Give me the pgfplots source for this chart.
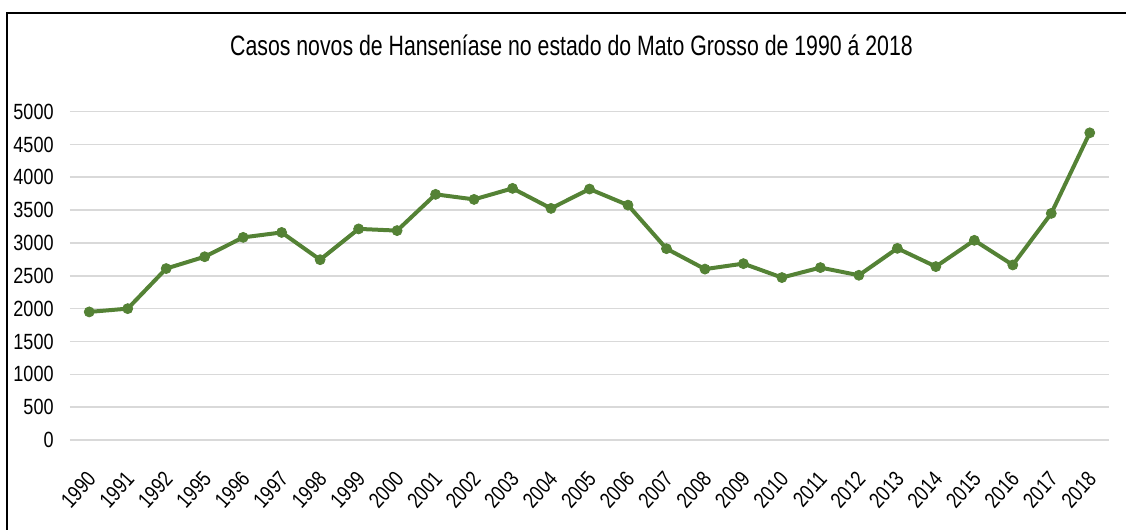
\documentclass[border=0pt]{standalone}
\usepackage{fontspec}
\setmainfont{Liberation Sans}[FakeStretch=0.82]
\newfontfamily\titlefont{Liberation Sans}[FakeStretch=0.76]
\newfontfamily\xfont{Liberation Sans}[FakeStretch=0.8]
\usepackage{pgfplots}
\pgfplotsset{compat=1.18}
\definecolor{lg}{RGB}{84,130,53}
\definecolor{gr}{RGB}{217,217,217}
\begin{document}
\begin{tikzpicture}
\path[use as bounding box] (0,0) rectangle (563pt,265pt);
\draw[line width=1.2pt] (3.5pt,-2pt) -- (3.5pt,258.5pt) -- (565pt,258.5pt);
\node[font=\titlefont\fontsize{14}{16}\selectfont, inner sep=0pt] at (285.75pt,242.5pt) {Casos novos de Hanseníase no estado do Mato Grosso de 1990 á 2018};
\begin{axis}[
  at={(35pt,45pt)}, anchor=south west,
  scale only axis, width=519.5pt, height=164.2pt,
  xmin=-0.5, xmax=26.5, ymin=0, ymax=5000,
  axis line style={draw=none},
  major tick length=0pt,
  ytick={0,500,...,5000},
  ymajorgrids, grid style={gr, line width=0.8pt},
  scaled y ticks=false,
  yticklabel style={font=\fontsize{11}{13}\selectfont, inner sep=0pt, xshift=-8pt,
    /pgf/number format/1000 sep={}, /pgf/number format/assume math mode=true},
  xtick={0,...,26},
  xticklabels={1990,1991,1992,1995,1996,1997,1998,1999,2000,2001,2002,2003,2004,2005,2006,2007,2008,2009,2010,2011,2012,2013,2014,2015,2016,2017,2018},
  xticklabel style={font=\xfont\fontsize{11}{13}\selectfont, rotate=48, anchor=north east, inner sep=0pt, xshift=-12.2pt, yshift=-8.5pt},
  clip=false,
]
\addplot[lg, line width=2pt, mark=*, mark size=2.5pt, mark options={fill=lg, draw=lg, line width=0.4pt}] coordinates {
(0,1950) (1,2000) (2,2610) (3,2790) (4,3085) (5,3160) (6,2745) (7,3214) (8,3188)
(9,3740) (10,3663) (11,3831) (12,3526) (13,3821) (14,3576) (15,2913) (16,2602)
(17,2685) (18,2473) (19,2625) (20,2508) (21,2918) (22,2640) (23,3040) (24,2665)
(25,3450) (26,4677)
};
\end{axis}
\end{tikzpicture}
\end{document}
